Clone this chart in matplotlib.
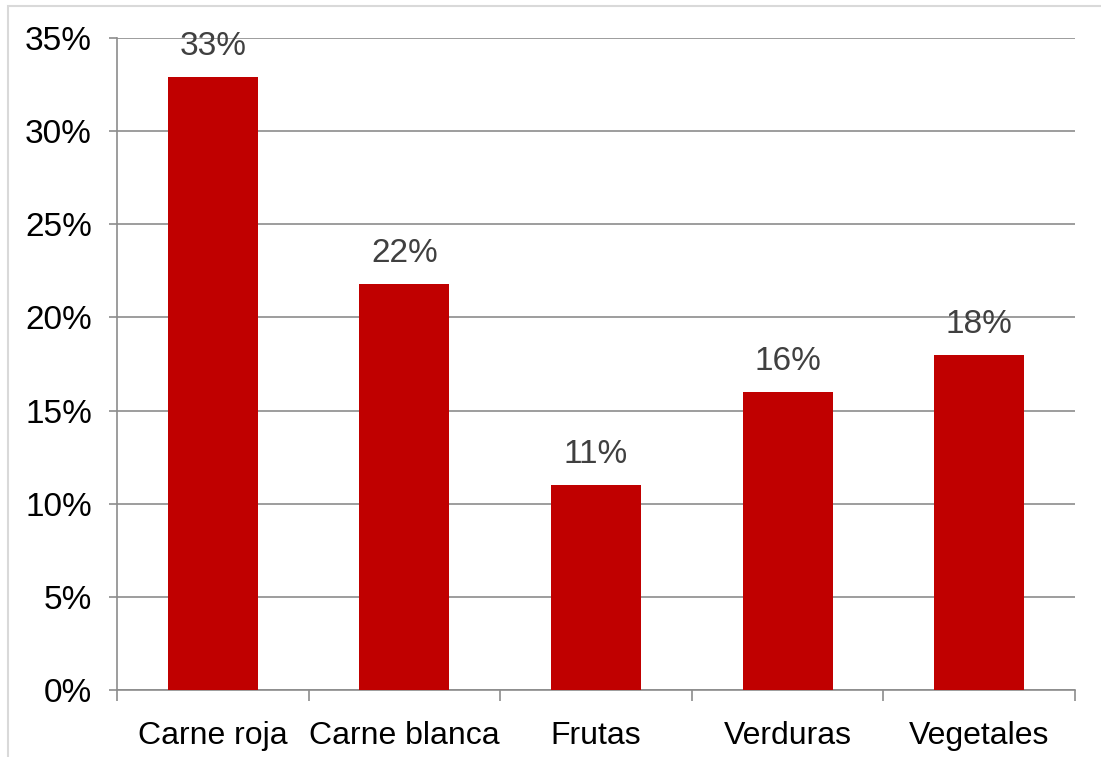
import matplotlib
matplotlib.use("Agg")
import matplotlib.pyplot as plt
from matplotlib.patches import Rectangle
from matplotlib.ticker import FuncFormatter, FixedLocator

categories = ["Carne roja", "Carne blanca", "Frutas", "Verduras", "Vegetales"]
values = [0.329, 0.218, 0.11, 0.16, 0.18]
yticks = [0, 0.05, 0.10, 0.15, 0.20, 0.25, 0.30, 0.35]

plt.rcParams['font.family'] = ['Liberation Sans', 'DejaVu Sans']

W, H = 1101, 757
fig = plt.figure(figsize=(W / 100, H / 100), dpi=100)
ax = fig.add_axes([117 / W, 1 - 690 / H, (1075 - 117) / W, (690 - 38) / H])

# light outer frame like the Excel chart area
fig.patches.append(Rectangle((8 / W, -0.1), 1.2, 1 - 6 / H + 0.1, transform=fig.transFigure,
                             fill=False, edgecolor="#d9d9d9", linewidth=1.5))

x = range(len(categories))
ax.bar(x, values, width=0.47, color="#c00000", zorder=3)
for i, v in enumerate(values):
    ax.text(i, v + 0.008, f"{v * 100:.0f}%", ha="center", va="bottom",
            fontsize=24, color="#404040")

ax.set_xlim(-0.5, len(categories) - 0.5)
ax.set_ylim(0, 0.35)
ax.set_yticks(yticks)
ax.yaxis.set_major_formatter(FuncFormatter(lambda v, p: f"{v * 100:.0f}%"))
ax.grid(axis="y", color="#8c8c8c", linewidth=1.2, zorder=0)

ax.set_xticks([i for i in x])
ax.set_xticklabels(categories)
ax.xaxis.set_minor_locator(FixedLocator([i - 0.5 for i in range(len(categories) + 1)]))
ax.tick_params(axis="x", which="major", length=0, labelsize=23, pad=22)
ax.tick_params(axis="x", which="minor", length=8, color="#8c8c8c", width=1.2)
ax.tick_params(axis="y", length=6, color="#8c8c8c", width=1.2, labelsize=24, pad=12)

for s in ["top", "right"]:
    ax.spines[s].set_visible(False)
for s in ["left", "bottom"]:
    ax.spines[s].set_color("#8c8c8c")
    ax.spines[s].set_linewidth(1.2)

fig.savefig("out.png", dpi=100)
